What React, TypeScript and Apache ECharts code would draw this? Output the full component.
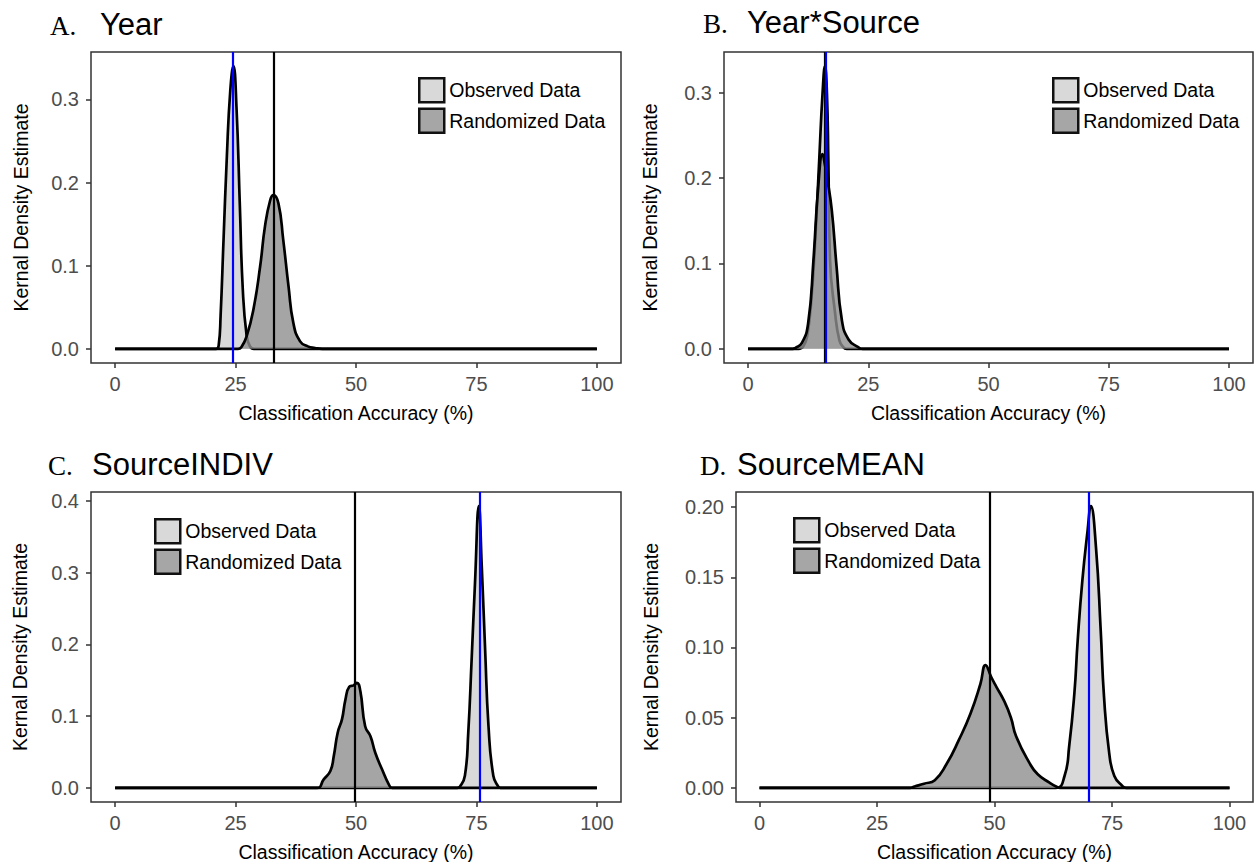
import React, { useEffect, useRef } from 'react';
import * as echarts from 'echarts';

// ---- data ----
const xTicks = [0, 25, 50, 75, 100];
const panelLetters = ['A.', 'B.', 'C.', 'D.'];
const panelNames = ['Year', 'Year*Source', 'SourceINDIV', 'SourceMEAN'];
const yTicksA = [0, 0.1, 0.2, 0.3];
const yTicksB = [0, 0.1, 0.2, 0.3];
const yTicksC = [0, 0.1, 0.2, 0.3, 0.4];
const yTicksD = [0, 0.05, 0.1, 0.15, 0.2];
const yDecimals = [1, 1, 1, 2];

const observedA: [number, number][] = [
  [0, 0], [21, 0], [21.5, 0.004], [21.9, 0.04], [22.5, 0.13], [23.2, 0.232], [23.9, 0.31],
  [24.55, 0.34], [25.2, 0.29], [25.9, 0.171], [26.5, 0.072], [27.3, 0.016], [28, 0.003], [28.8, 0], [100, 0],
];
const randomizedA: [number, number][] = [
  [0, 0], [25.5, 0], [26.2, 0.002], [27.3, 0.015], [28.7, 0.047], [30.1, 0.099], [31.1, 0.147],
  [32.2, 0.179], [32.85, 0.185], [33.9, 0.175], [34.9, 0.131], [36, 0.075], [37, 0.031],
  [38.4, 0.009], [40, 0.003], [41.5, 0.001], [43, 0], [100, 0],
];
const observedB: [number, number][] = [
  [0, 0], [10.5, 0], [11.5, 0.003], [12.3, 0.015], [13.2, 0.06], [14, 0.13], [14.8, 0.221],
  [15.5, 0.3], [16.0, 0.331], [16.4, 0.3], [16.7, 0.22], [17.05, 0.104], [18.1, 0.042],
  [19.0, 0.01], [19.8, 0.002], [20.5, 0], [100, 0],
];
const randomizedB: [number, number][] = [
  [0, 0], [9.3, 0], [9.8, 0.001], [11.2, 0.007], [12.5, 0.03], [13.6, 0.104], [14.6, 0.19],
  [15.5, 0.228], [16.0, 0.215], [16.4, 0.202], [17.4, 0.163], [18.4, 0.097], [19.5, 0.034],
  [20.9, 0.011], [22.9, 0.002], [23.8, 0], [100, 0],
];
const observedC: [number, number][] = [
  [0, 0], [71, 0], [71.6, 0.002], [72.6, 0.017], [73.3, 0.077], [74, 0.179], [74.7, 0.286],
  [75.5, 0.393], [76.1, 0.309], [76.8, 0.193], [77.5, 0.086], [78.5, 0.017], [79.5, 0.002], [80, 0], [100, 0],
];
const randomizedC: [number, number][] = [
  [0, 0], [41.9, 0], [43.3, 0.012], [44.7, 0.024], [45.4, 0.045], [46.2, 0.077], [47.1, 0.096],
  [47.8, 0.123], [48.6, 0.141], [49.5, 0.143], [50.2, 0.1466], [50.9, 0.135], [51.9, 0.086],
  [53.0, 0.072], [54.0, 0.049], [55.4, 0.026], [56.8, 0.005], [57.5, 0], [100, 0],
];
const observedD: [number, number][] = [
  [0, 0], [63, 0], [64.9, 0.0085], [65.9, 0.03], [67, 0.0675], [67.7, 0.105], [68.7, 0.148],
  [69.8, 0.183], [70.5, 0.2007], [71.6, 0.171], [72.6, 0.112], [73.3, 0.065], [74.4, 0.025],
  [75.5, 0.0085], [77.2, 0.0014], [78, 0], [100, 0],
];
const randomizedD: [number, number][] = [
  [0, 0], [32, 0], [33, 0.001], [35, 0.003], [37.3, 0.0055], [39.8, 0.017], [42.4, 0.034],
  [44.9, 0.053], [47, 0.074], [48.1, 0.0875], [49.3, 0.079], [50.4, 0.072], [52.1, 0.0616],
  [53.5, 0.05], [54.6, 0.0368], [57.4, 0.018], [59.2, 0.0097], [61.7, 0.0038], [63.1, 0.001], [64, 0], [100, 0],
];
const randomizedMeans = [32.9, 16.0, 49.7, 48.9];
const observedValues = [24.4, 16.2, 75.6, 70.0];

const observedSets = [observedA, observedB, observedC, observedD];
const randomizedSets = [randomizedA, randomizedB, randomizedC, randomizedD];
const yTickSets = [yTicksA, yTicksB, yTicksC, yTicksD];

// ---- layout ----
const SANS = '"Liberation Sans", Arial, sans-serif';
const SERIF = '"Liberation Serif", "Times New Roman", serif';
const grids = [
  { left: 91, top: 52, width: 530, height: 311 },
  { left: 724, top: 52, width: 529, height: 311 },
  { left: 91, top: 492, width: 530, height: 310 },
  { left: 736, top: 492, width: 517, height: 310 },
];
const yNameGaps = [60, 64, 61, 75];
const legendPos = [
  { left: 418, top: 77 },
  { left: 1052, top: 77 },
  { left: 154, top: 518 },
  { left: 793, top: 517 },
];
const titlePos = [
  { lx: 50, nx: 100, base: 35 },
  { lx: 703, nx: 747, base: 33 },
  { lx: 48, nx: 92, base: 475 },
  { lx: 700, nx: 737, base: 475 },
];

const OBS_FILL = '#d9d9d9';
const RAND_FILL = '#a6a6a6';

function buildOption() {
  const xAxis: any[] = [];
  const yAxis: any[] = [];
  const series: any[] = [];
  const graphic: any[] = [];
  const legend: any[] = [];

  for (let i = 0; i < 4; i++) {
    const ymaxData = Math.max(
      ...observedSets[i].map((p) => p[1]),
      ...randomizedSets[i].map((p) => p[1])
    );
    xAxis.push({
      gridIndex: i,
      type: 'value',
      min: -5,
      max: 105,
      axisLine: { show: false, onZero: false },
      splitLine: { show: false },
      axisTick: { show: true, customValues: xTicks, length: 5, lineStyle: { color: '#333', width: 1.5 } },
      axisLabel: { customValues: xTicks, color: '#4d4d4d', fontSize: 20, margin: 11, fontFamily: SANS },
      name: 'Classification Accuracy (%)',
      nameLocation: 'middle',
      nameGap: 40,
      nameTextStyle: { color: '#000', fontSize: 19.5, fontFamily: SANS },
    });
    const dec = yDecimals[i];
    yAxis.push({
      gridIndex: i,
      type: 'value',
      min: -0.05 * ymaxData,
      max: 1.05 * ymaxData,
      axisLine: { show: false, onZero: false },
      splitLine: { show: false },
      axisTick: { show: true, customValues: yTickSets[i], length: 5, lineStyle: { color: '#333', width: 1.5 } },
      axisLabel: {
        customValues: yTickSets[i],
        formatter: (v: number) => v.toFixed(dec),
        color: '#4d4d4d',
        fontSize: 20,
        margin: 12,
        fontFamily: SANS,
      },
      name: 'Kernal Density Estimate',
      nameLocation: 'middle',
      nameGap: yNameGaps[i],
      nameTextStyle: { color: '#000', fontSize: 19.5, fontFamily: SANS },
    });
    series.push({
      type: 'line',
      name: 'Observed Data',
      xAxisIndex: i,
      yAxisIndex: i,
      data: observedSets[i],
      symbol: 'none',
      showSymbol: false,
      smooth: 0.5,
      lineStyle: { color: '#000', width: 2.7, join: 'round' },
      itemStyle: { color: OBS_FILL },
      areaStyle: { color: OBS_FILL, opacity: 1 },
      emphasis: { disabled: true },
      z: 2,
    });
    series.push({
      type: 'line',
      name: 'Randomized Data',
      xAxisIndex: i,
      yAxisIndex: i,
      data: randomizedSets[i],
      symbol: 'none',
      showSymbol: false,
      smooth: 0.5,
      lineStyle: { color: '#000', width: 2.7, join: 'round' },
      itemStyle: { color: RAND_FILL },
      areaStyle: { color: '#8f8f8f', opacity: 0.8 },
      emphasis: { disabled: true },
      z: 3,
      markLine: {
        silent: true,
        symbol: ['none', 'none'],
        label: { show: false },
        animation: false,
        data: [
          { xAxis: randomizedMeans[i], lineStyle: { color: '#000', width: 2.2, type: 'solid' } },
          { xAxis: observedValues[i], lineStyle: { color: '#0000ff', width: 2.2, type: 'solid' } },
        ],
      },
    });
    legend.push({
      orient: 'vertical',
      left: legendPos[i].left,
      top: legendPos[i].top,
      padding: 0,
      itemGap: 4,
      itemWidth: 25,
      itemHeight: 24,
      icon: 'rect',
      selectedMode: false,
      textStyle: { color: '#000', fontSize: 19.5, fontFamily: SANS },
      itemStyle: { borderColor: '#111', borderWidth: 2.5 },
      data: [
        { name: 'Observed Data', icon: 'rect', itemStyle: { color: OBS_FILL, borderColor: '#111', borderWidth: 2.5 } },
        { name: 'Randomized Data', icon: 'rect', itemStyle: { color: RAND_FILL, borderColor: '#111', borderWidth: 2.5 } },
      ],
    });
    const tp = titlePos[i];
    graphic.push({
      type: 'text',
      left: tp.lx,
      top: tp.base - 23,
      style: { text: panelLetters[i], font: `27px ${SERIF}`, fill: '#000' },
    });
    graphic.push({
      type: 'text',
      left: tp.nx,
      top: tp.base - 26,
      style: { text: panelNames[i], font: `31px ${SANS}`, fill: '#000' },
    });
  }

  return {
    animation: false,
    backgroundColor: '#fff',
    grid: grids.map((g) => ({
      ...g,
      show: true,
      borderColor: '#333',
      borderWidth: 1.5,
      backgroundColor: 'transparent',
      containLabel: false,
      outerBoundsMode: 'none',
    })),
    xAxis,
    yAxis,
    legend,
    series,
    graphic,
  };
}

export default function App() {
  const ref = useRef<HTMLDivElement>(null);
  useEffect(() => {
    document.body.style.margin = '0';
    if (!ref.current) return;
    const chart = echarts.init(ref.current, undefined, { renderer: 'svg' });
    chart.setOption(buildOption() as any);
    return () => chart.dispose();
  }, []);
  return (
    <div
      ref={ref}
      style={{ position: 'fixed', left: 0, top: 0, width: 1254, height: 862, background: '#fff' }}
    />
  );
}
